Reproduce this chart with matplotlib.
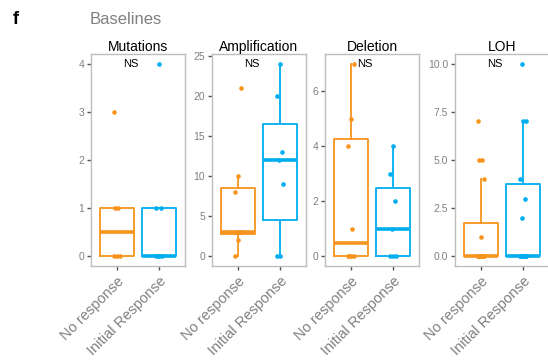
import matplotlib
matplotlib.use("Agg")
import matplotlib.pyplot as plt
import matplotlib.transforms as mtransforms
import numpy as np

plt.rcParams['font.family'] = ['Liberation Sans', 'DejaVu Sans']

groups = ["No response", "Initial Response"]
panel_titles = ["Mutations", "Amplification", "Deletion", "LOH"]

mut_no = [0, 0, 0, 1, 1, 3]
mut_init = [0, 0, 0, 0, 1, 1, 4]
amp_no = [0, 2, 3, 3, 3, 8, 10, 21]
amp_init = [0, 0, 9, 12, 13, 20, 24]
del_no = [0, 0, 0, 0, 1, 4, 5, 7]
del_init = [0, 0, 0, 1, 2, 3, 4]
loh_no = [0] * 11 + [1, 4, 5, 5, 7]
loh_init = [0] * 8 + [2, 3, 4, 7, 7, 10]

yticks = [[0, 1, 2, 3, 4],
          [0, 5, 10, 15, 20, 25],
          [0, 2, 4, 6],
          [0, 2.5, 5, 7.5, 10]]
ytick_labels = [["0", "1", "2", "3", "4"],
                ["0", "5", "10", "15", "20", "25"],
                ["0", "2", "4", "6"],
                ["0.0", "2.5", "5.0", "7.5", "10.0"]]
sig_labels = ["NS", "NS", "NS", "NS"]

data = [(mut_no, mut_init), (amp_no, amp_init), (del_no, del_init), (loh_no, loh_init)]
colors = ["#F7941D", "#00AEEF"]

W, H = 548, 364
fig = plt.figure(figsize=(W / 100, H / 100), dpi=100)

lefts = [91, 212, 325, 455]
pw = 94
top, bottom = 54, 266

frame_col = "#BDBDBD"
tick_col = "#555555"
label_col = "#808080"

for k, (left, title) in enumerate(zip(lefts, panel_titles)):
    ax = fig.add_axes([left / W, (H - bottom) / H, pw / W, (bottom - top) / H])
    allv = data[k][0] + data[k][1]
    lo, hi = min(allv), max(allv)
    pad = 0.05 * (hi - lo)
    ax.set_ylim(lo - pad, hi + pad)
    ax.set_xlim(0.4, 2.6)
    for g in range(2):
        vals = np.array(data[k][g], dtype=float)
        c = colors[g]
        ax.boxplot(vals, positions=[g + 1], widths=0.8, showfliers=False,
                   showcaps=False, patch_artist=False, whis=1.5,
                   boxprops=dict(color=c, linewidth=1.3),
                   whiskerprops=dict(color=c, linewidth=1.3),
                   medianprops=dict(color=c, linewidth=2.6, solid_capstyle='butt'),
                   zorder=2)
        offs = np.array([((i * 7) % 5 - 2) * 0.035 for i in range(len(vals))])
        ax.scatter(g + 1 + offs, vals, s=11, color=c, zorder=3, linewidths=0)
    ax.set_yticks(yticks[k])
    ax.set_yticklabels(ytick_labels[k])
    ax.set_xticks([1, 2])
    ax.set_xticklabels(groups, rotation=45, ha='right', va='top',
                       rotation_mode='anchor', fontsize=10.5, color=label_col)
    ax.tick_params(axis='y', labelsize=7.5, colors=tick_col, labelcolor=label_col,
                   length=3, width=1, pad=2)
    ax.tick_params(axis='x', colors=tick_col, labelcolor=label_col,
                   length=3, width=1, pad=3)
    for s in ax.spines.values():
        s.set_color(frame_col)
        s.set_linewidth(1)
    ax.set_title(title, fontsize=10, color="black", pad=2)
    ax.text(1.15, 0.955, sig_labels[k],
            transform=mtransforms.blended_transform_factory(ax.transData, ax.transAxes),
            ha='left', va='center', fontsize=8, color="black")

fig.text(13 / W, 1 - 19 / H, "f", fontsize=13, fontweight='bold', color='black',
         ha='left', va='center')
fig.text(90 / W, 1 - 19 / H, "Baselines", fontsize=12, color='#808080',
         ha='left', va='center')

fig.savefig("out.png", dpi=100)
